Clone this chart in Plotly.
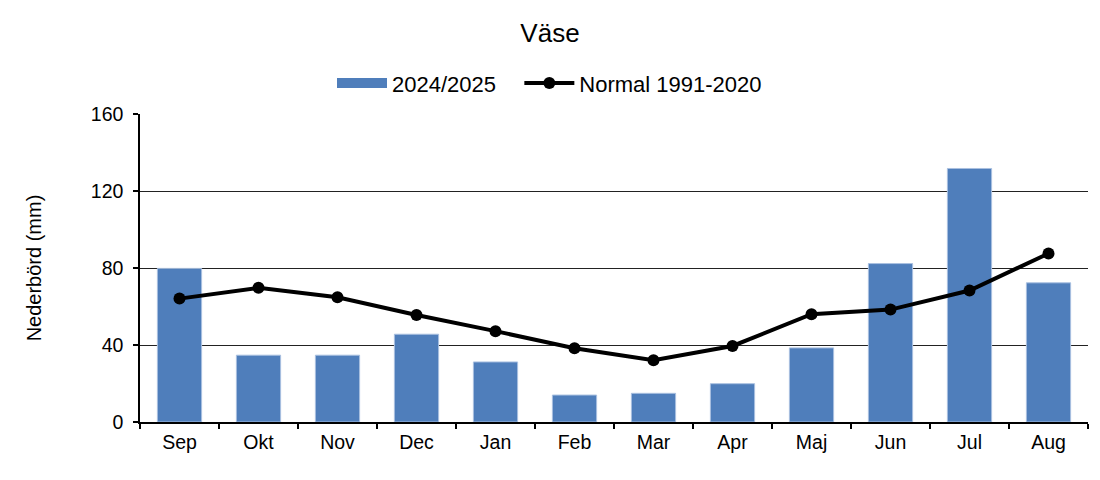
import plotly.graph_objects as go

months = ["Sep", "Okt", "Nov", "Dec", "Jan", "Feb", "Mar", "Apr", "Maj", "Jun", "Jul", "Aug"]
precip_2024_2025 = [79.8, 34.7, 34.7, 45.6, 31.2, 14.0, 14.9, 19.9, 38.5, 82.3, 131.7, 72.3]
normal_1991_2020 = [64.1, 69.7, 64.8, 55.6, 47.2, 38.3, 32.1, 39.5, 56.0, 58.4, 68.3, 87.5]
y_ticks = [0, 40, 80, 120, 160]

font_family = "Liberation Sans, Arial, sans-serif"
bar_color = "#4F7EBB"

fig = go.Figure()
fig.add_trace(go.Bar(
    x=months, y=precip_2024_2025, name="2024/2025", showlegend=False, legendgroup="bar",
    marker=dict(color=bar_color, line=dict(color="#A9C0E0", width=1)),
))
# legend-only entry to mimic the wide rectangular bar swatch
fig.add_trace(go.Scatter(
    x=[None], y=[None], name="2024/2025\u00a0\u00a0\u00a0", mode="lines", legendgroup="bar",
    line=dict(color=bar_color, width=11),
))
fig.add_trace(go.Scatter(
    x=months, y=normal_1991_2020, name="Normal 1991-2020",
    mode="lines+markers",
    line=dict(color="black", width=4),
    marker=dict(color="black", size=12),
))

fig.update_layout(
    width=1100, height=480,
    margin=dict(l=140, r=12, t=114, b=58),
    paper_bgcolor="white", plot_bgcolor="white",
    font=dict(family=font_family, size=19, color="black"),
    bargap=0.44,
    title=dict(text="Väse", x=0.5, xanchor="center", y=1 - 33 / 480, yanchor="middle",
               font=dict(size=26, color="black")),
    legend=dict(orientation="h", x=(332 - 140) / 948, xanchor="left", y=1.10, yanchor="middle",
                font=dict(size=22), itemwidth=50, traceorder="normal"),
    showlegend=True,
)
fig.update_xaxes(
    type="category", range=[-0.5, 11.5], showline=True, linecolor="black", linewidth=1.5,
    ticks="outside", tickson="boundaries", ticklen=5, tickcolor="black", tickwidth=1.5,
    showgrid=False, tickfont=dict(size=19.5), mirror=False, ticklabelstandoff=2,
)
fig.update_yaxes(
    range=[0, 160], tickvals=y_ticks, showline=True, linecolor="black", linewidth=1.5,
    ticks="outside", ticklen=5, tickcolor="black", tickwidth=1.5,
    showgrid=True, gridcolor="#222222", gridwidth=1, zeroline=False,
    tickfont=dict(size=19.5), ticklabelstandoff=6,
    title=dict(text="Nederbörd (mm)", font=dict(size=20), standoff=44),
)

fig.write_html("out.html")
